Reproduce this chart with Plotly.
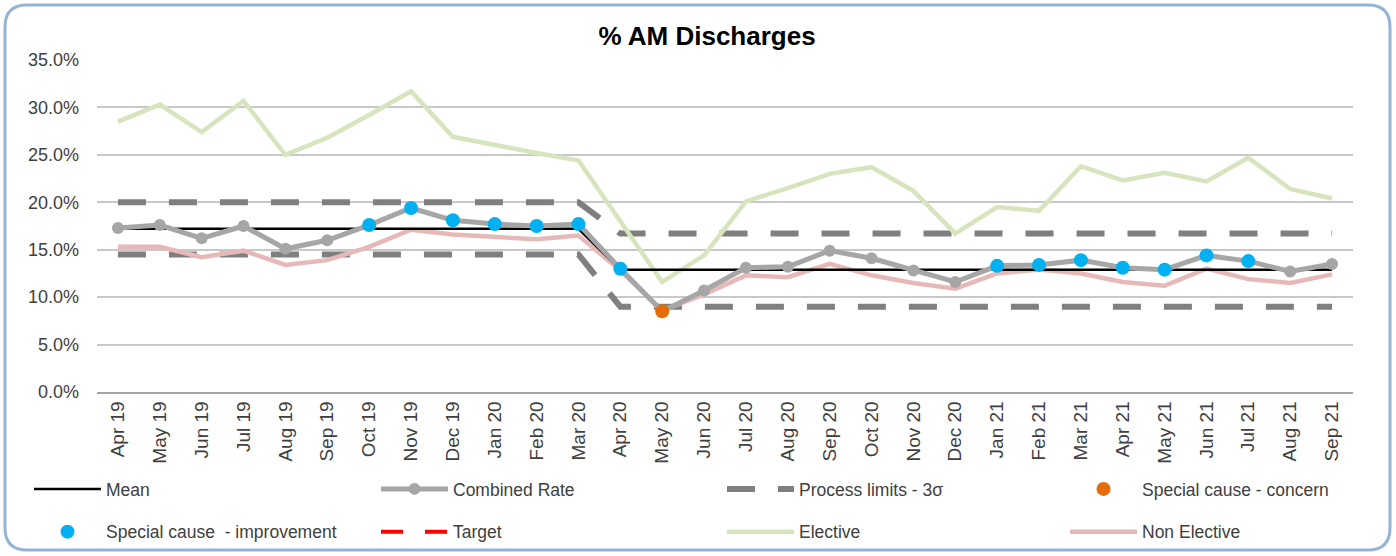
import plotly.graph_objects as go

months = ["Apr 19", "May 19", "Jun 19", "Jul 19", "Aug 19", "Sep 19", "Oct 19", "Nov 19",
          "Dec 19", "Jan 20", "Feb 20", "Mar 20", "Apr 20", "May 20", "Jun 20", "Jul 20",
          "Aug 20", "Sep 20", "Oct 20", "Nov 20", "Dec 20", "Jan 21", "Feb 21", "Mar 21",
          "Apr 21", "May 21", "Jun 21", "Jul 21", "Aug 21", "Sep 21"]

combined = [17.3, 17.6, 16.2, 17.5, 15.1, 16.0, 17.6, 19.4, 18.1, 17.7, 17.5, 17.7,
            13.0, 8.5, 10.7, 13.1, 13.2, 14.9, 14.1, 12.8, 11.6, 13.3, 13.4, 13.9,
            13.1, 12.9, 14.4, 13.8, 12.7, 13.5]
elective = [28.5, 30.3, 27.4, 30.7, 25.0, 26.8, 29.2, 31.7, 26.9, 26.0, 25.2, 24.4,
            18.0, 11.6, 14.4, 20.1, 21.5, 23.0, 23.7, 21.2, 16.7, 19.5, 19.1, 23.8,
            22.3, 23.1, 22.2, 24.7, 21.4, 20.4]
non_elective = [15.3, 15.3, 14.2, 14.9, 13.4, 13.9, 15.3, 17.1, 16.6, 16.4, 16.1, 16.5,
                12.8, 8.6, 10.3, 12.3, 12.1, 13.5, 12.3, 11.5, 10.9, 12.5, 12.9, 12.5,
                11.6, 11.2, 13.0, 11.9, 11.5, 12.4]
mean = [17.2, 17.2, 17.2, 17.2, 17.2, 17.2, 17.2, 17.2, 17.2, 17.2, 17.2, 17.2,
        12.9, 12.9, 12.9, 12.9, 12.9, 12.9, 12.9, 12.9, 12.9, 12.9, 12.9, 12.9,
        12.9, 12.9, 12.9, 12.9, 12.9, 12.9]
ucl = [20.0, 20.0, 20.0, 20.0, 20.0, 20.0, 20.0, 20.0, 20.0, 20.0, 20.0, 20.0,
       16.7, 16.7, 16.7, 16.7, 16.7, 16.7, 16.7, 16.7, 16.7, 16.7, 16.7, 16.7,
       16.7, 16.7, 16.7, 16.7, 16.7, 16.7]
lcl = [14.5, 14.5, 14.5, 14.5, 14.5, 14.5, 14.5, 14.5, 14.5, 14.5, 14.5, 14.5,
       9.0, 9.0, 9.0, 9.0, 9.0, 9.0, 9.0, 9.0, 9.0, 9.0, 9.0, 9.0,
       9.0, 9.0, 9.0, 9.0, 9.0, 9.0]
improvement_months = ["Oct 19", "Nov 19", "Dec 19", "Jan 20", "Feb 20", "Mar 20", "Apr 20",
                      "Jan 21", "Feb 21", "Mar 21", "Apr 21", "May 21", "Jun 21", "Jul 21"]
concern_months = ["May 20"]

improvement = [c if m in improvement_months else None for m, c in zip(months, combined)]
concern = [c if m in concern_months else None for m, c in zip(months, combined)]
target = [None for _ in months]

W, H = 1396, 556
ML, MR, MT, MB = 97, 43, 60, 164
PW, PH = W - ML - MR, H - MT - MB
FONT = "Liberation Sans, Arial, sans-serif"


def px2x(px):
    return (px - ML) / PW


def px2y(py):
    return (H - MB - py) / PH


fig = go.Figure()

fig.add_trace(go.Scatter(x=months, y=ucl, mode="lines", name="Process limits - 3\u03c3",
                         line=dict(color="#7F7F7F", width=6, dash="28px,23px"),
                         legend="legend3", legendgroup="pl", legendrank=1, hoverinfo="skip"))
fig.add_trace(go.Scatter(x=months, y=lcl, mode="lines", name="Process limits - 3\u03c3",
                         line=dict(color="#7F7F7F", width=6, dash="28px,23px"),
                         legend="legend3", legendgroup="pl", showlegend=False, hoverinfo="skip"))
fig.add_trace(go.Scatter(x=months, y=elective, mode="lines", name="Elective",
                         line=dict(color="#D7E4BD", width=4.5),
                         legend="legend3", legendgroup="el", legendrank=2))
fig.add_trace(go.Scatter(x=months, y=non_elective, mode="lines", name="Non Elective",
                         line=dict(color="#E6B9B8", width=4.5),
                         legend="legend4", legendgroup="ne", legendrank=2))
fig.add_trace(go.Scatter(x=months, y=mean, mode="lines", name="Mean",
                         line=dict(color="#000000", width=2.5),
                         legend="legend", legendgroup="mean", legendrank=1))
fig.add_trace(go.Scatter(x=months, y=combined, mode="lines+markers", name="Combined Rate",
                         line=dict(color="#A6A6A6", width=5),
                         marker=dict(color="#A6A6A6", size=12),
                         legend="legend2", legendgroup="comb", legendrank=1))
fig.add_trace(go.Scatter(x=months, y=target, mode="lines", name="Target",
                         line=dict(color="#FF0000", width=4, dash="22px,22px"),
                         legend="legend2", legendgroup="tgt", legendrank=2))
fig.add_trace(go.Scatter(x=months, y=improvement, mode="markers", name="Special cause  - improvement",
                         marker=dict(color="#00B0F0", size=14),
                         legend="legend", legendgroup="imp", legendrank=2))
fig.add_trace(go.Scatter(x=months, y=concern, mode="markers", name="Special cause - concern",
                         marker=dict(color="#E46C0A", size=14),
                         legend="legend4", legendgroup="con", legendrank=1))

legend_common = dict(orientation="v", xanchor="left", yanchor="top", itemwidth=67,
                     font=dict(family=FONT, size=17.5, color="#404040"),
                     bgcolor="rgba(0,0,0,0)", tracegroupgap=17, traceorder="grouped")
ly = px2y(471)
fig.update_layout(
    legend=dict(x=px2x(29), y=ly, **legend_common),
    legend2=dict(x=px2x(376), y=ly, **legend_common),
    legend3=dict(x=px2x(722), y=ly, **legend_common),
    legend4=dict(x=px2x(1065), y=ly, **legend_common),
)

# rounded border around the chart
r = 22
x0, x1, y0, y1 = 5, 1390, 5, 550
pts = [
    ("M", x0 + r, y0), ("L", x1 - r, y0), ("Q", x1, y0, x1, y0 + r), ("L", x1, y1 - r),
    ("Q", x1, y1, x1 - r, y1), ("L", x0 + r, y1), ("Q", x0, y1, x0, y1 - r),
    ("L", x0, y0 + r), ("Q", x0, y0, x0 + r, y0),
]
path = ""
for p in pts:
    cmd = p[0]
    coords = p[1:]
    s = []
    for i in range(0, len(coords), 2):
        s.append(f"{px2x(coords[i]):.5f},{px2y(coords[i + 1]):.5f}")
    path += cmd + " ".join(s) + " "
path += "Z"

fig.update_layout(
    width=W, height=H,
    margin=dict(l=ML, r=MR, t=MT, b=MB, autoexpand=False),
    paper_bgcolor="white", plot_bgcolor="white",
    font=dict(family=FONT, color="#404040"),
    title=dict(text="<b>% AM Discharges</b>", x=707 / W, xanchor="center",
               y=1 - 36 / H, yanchor="middle",
               font=dict(family=FONT, size=26, color="#000000")),
    showlegend=True,
    shapes=[dict(type="path", xref="paper", yref="paper", path=path,
                 line=dict(color="#95B3D7", width=3), fillcolor="rgba(0,0,0,0)", layer="above")],
    xaxis=dict(type="category", categoryorder="array", categoryarray=months,
               tickangle=-90, tickfont=dict(size=19, color="#404040"),
               showgrid=False, showline=True, linecolor="#A6A6A6", linewidth=1.5,
               ticks="", range=[-0.5, len(months) - 0.5]),
    yaxis=dict(range=[0, 35], dtick=5, tickformat=".1f", ticksuffix="%",
               tickfont=dict(size=18, color="#404040"),
               showgrid=True, gridcolor="#C8C8C8", gridwidth=1.5,
               zeroline=False, showline=False, ticks="", ticklabelstandoff=17),
)

fig.write_html("out.html", config={"displayModeBar": False},
               post_script="document.body.style.margin='0';")
